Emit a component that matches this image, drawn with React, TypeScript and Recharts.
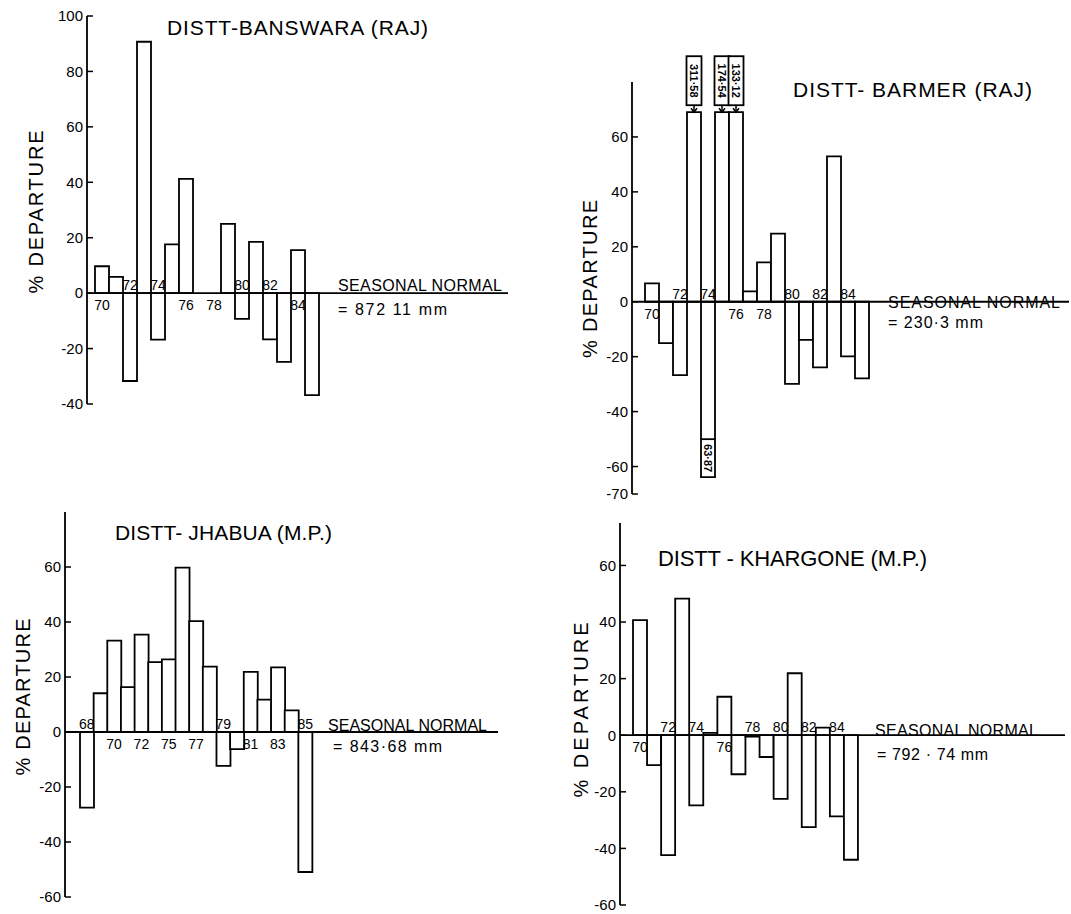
import { Bar, BarChart, LabelList, ReferenceDot, ReferenceLine, XAxis, YAxis } from 'recharts'

const FONT = '"Liberation Sans", Arial, sans-serif'

// Banswara (Raj) 1970-85
const banswaraYears = ['70', '71', '72', '73', '74', '75', '76', '77', '78', '79', '80', '81', '82', '83', '84', '85']
const banswaraValues = [9.7, 5.9, -31.7, 90.7, -16.8, 17.6, 41.2, 0, 0, 25, -9.3, 18.5, -16.7, -24.8, 15.5, -36.8]
const banswaraTicks = [-40, -20, 0, 20, 40, 60, 80, 100]

// Barmer (Raj) 1970-85, bars above the cap are cut and annotated
const barmerYears = ['70', '71', '72', '73', '74', '75', '76', '77', '78', '79', '80', '81', '82', '83', '84', '85']
const barmerValues = [6.7, -15.1, -26.7, 311.58, -63.87, 174.54, 133.12, 3.8, 14.3, 24.8, -29.9, -13.9, -23.9, 52.9, -19.9, -27.9]
const barmerNotes = ['', '', '', '311·58', '63·87', '174·54', '133·12', '', '', '', '', '', '', '', '', '']
const barmerTicks = [-70, -60, -40, -20, 0, 20, 40, 60]
const BARMER_CAP = 69

// Jhabua (M.P.) 1968-85, no 1974
const jhabuaYears = ['68', '69', '70', '71', '72', '73', '75', '76', '77', '78', '79', '80', '81', '82', '83', '84', '85']
const jhabuaValues = [-27.5, 14.1, 33.2, 16.3, 35.4, 25.4, 26.4, 59.8, 40.3, 23.8, -12.3, -6.2, 21.9, 11.8, 23.5, 7.9, -50.9]
const jhabuaTicks = [-60, -40, -20, 0, 20, 40, 60]

// Khargone (M.P.) 1970-85
const khargoneYears = ['70', '71', '72', '73', '74', '75', '76', '77', '78', '79', '80', '81', '82', '83', '84', '85']
const khargoneValues = [40.7, -10.6, -42.4, 48.3, -24.8, 0.8, 13.6, -13.8, -0.5, -7.7, -22.5, 21.9, -32.5, 2.7, -28.7, -44]
const khargoneTicks = [-60, -40, -20, 0, 20, 40, 60]

// boxed value notes for the cut bars (Barmer)
const makeNote = (years: string[], values: number[], notes: string[]) => (props: any) => {
  const { viewBox, value } = props
  if (!viewBox) return null
  const i = years.indexOf(String(value))
  const note = notes[i]
  if (!note) return null
  const { x, y, width, height } = viewBox
  const top = Math.min(y, y + height)
  const bottom = Math.max(y, y + height)
  const cx = x + width / 2
  if (values[i] > 0) {
    return (
      <g>
        <rect x={cx - 7.5} y={top - 56} width={15} height={49} fill='#fff' stroke='#000' strokeWidth={1.8} />
        <text
          x={cx}
          y={top - 31.5}
          textAnchor='middle'
          dominantBaseline='central'
          fontSize={11}
          fontWeight='bold'
          fontFamily={FONT}
          fill='#000'
          transform={`rotate(90 ${cx} ${top - 31.5})`}
        >
          {note}
        </text>
        <line x1={cx} y1={top - 7} x2={cx} y2={top} stroke='#000' strokeWidth={1.5} />
        <path d={`M${cx - 3} ${top - 4} L${cx} ${top} L${cx + 3} ${top - 4}`} fill='none' stroke='#000' strokeWidth={1.5} />
      </g>
    )
  }
  return (
    <g>
      <line x1={x} y1={bottom - 38} x2={x + width} y2={bottom - 38} stroke='#000' strokeWidth={1.8} />
      <text
        x={cx}
        y={bottom - 19}
        textAnchor='middle'
        dominantBaseline='central'
        fontSize={11}
        fontWeight='bold'
        fontFamily={FONT}
        fill='#000'
        transform={`rotate(90 ${cx} ${bottom - 19})`}
      >
        {note}
      </text>
    </g>
  )
}

type PanelProps = {
  left: number
  top: number
  width: number
  height: number
  margin: { top: number; right: number; bottom: number; left: number }
  yWidth: number
  domain: [number, number]
  ticks: number[]
  padLeft: number
  padRight: number
  years: string[]
  values: number[]
  notes?: string[]
  cap?: number
}

function Panel(p: PanelProps) {
  const data = p.years.map((year, i) => ({ year, value: p.values[i] }))
  const cap = p.cap
  return (
    <div style={{ position: 'absolute', left: p.left, top: p.top }}>
      <BarChart width={p.width} height={p.height} data={data} margin={p.margin} barCategoryGap={0} barGap={0}>
        <XAxis dataKey='year' hide padding={{ left: p.padLeft, right: p.padRight }} />
        <YAxis
          type='number'
          domain={p.domain}
          ticks={p.ticks}
          interval={0}
          width={p.yWidth}
          tickSize={-6}
          tickMargin={10}
          axisLine={{ stroke: '#000', strokeWidth: 1.8 }}
          tickLine={{ stroke: '#000', strokeWidth: 1.5 }}
          tick={{ fill: '#000', fontSize: 15, fontFamily: FONT }}
        />
        <Bar
          dataKey={cap ? (d: any) => Math.min(d.value, cap) : 'value'}
          fill='#fff'
          stroke='#000'
          strokeWidth={1.8}
          isAnimationActive={false}
        >
          {p.notes && <LabelList dataKey='year' content={makeNote(p.years, p.values, p.notes)} />}
        </Bar>
        <ReferenceLine y={0} stroke='#000' strokeWidth={1.8} />
        {/* year labels every second bar, on the side away from the bar */}
        {p.years.map((year, i) =>
          i % 2 === 0 ? (
            <ReferenceDot
              key={year}
              x={year}
              y={0}
              r={0}
              ifOverflow='visible'
              shape={(s: any) => (
                <text
                  x={s.cx}
                  y={p.values[i] >= 0 ? s.cy + 17 : s.cy - 3}
                  textAnchor='middle'
                  fontSize={14}
                  fontFamily={FONT}
                  fill='#000'
                >
                  {year}
                </text>
              )}
            />
          ) : null
        )}
      </BarChart>
    </div>
  )
}

export default function App() {
  return (
    <div style={{ position: 'absolute', left: 0, top: 0, width: 1071, height: 914, background: '#fff' }}>
      <Panel
        left={0}
        top={0}
        width={530}
        height={420}
        margin={{ top: 16, right: 22, bottom: 16, left: 27 }}
        yWidth={60}
        domain={[-40, 100]}
        ticks={banswaraTicks}
        padLeft={8}
        padRight={189}
        years={banswaraYears}
        values={banswaraValues}
      />
      <Panel
        left={560}
        top={0}
        width={511}
        height={512}
        margin={{ top: 82, right: 2, bottom: 18, left: 12 }}
        yWidth={60}
        domain={[-70, 80]}
        ticks={barmerTicks}
        padLeft={13}
        padRight={200}
        years={barmerYears}
        values={barmerValues}
        notes={barmerNotes}
        cap={BARMER_CAP}
      />
      <Panel
        left={0}
        top={480}
        width={530}
        height={434}
        margin={{ top: 32, right: 32, bottom: 17, left: 10 }}
        yWidth={55}
        domain={[-60, 80]}
        ticks={jhabuaTicks}
        padLeft={15}
        padRight={186}
        years={jhabuaYears}
        values={jhabuaValues}
      />
      <Panel
        left={560}
        top={480}
        width={511}
        height={434}
        margin={{ top: 43, right: 6, bottom: 9, left: 10 }}
        yWidth={50}
        domain={[-60, 75]}
        ticks={khargoneTicks}
        padLeft={13}
        padRight={207}
        years={khargoneYears}
        values={khargoneValues}
      />
      <svg
        width={1071}
        height={914}
        style={{ position: 'absolute', left: 0, top: 0, pointerEvents: 'none', whiteSpace: 'pre' }}
        fontFamily={FONT}
        fill='#000'
      >
        {/* Banswara */}
        <text x={167} y={35} fontSize={21} textLength={261} lengthAdjust='spacing'>DISTT-BANSWARA  (RAJ)</text>
        <text x={43} y={212} fontSize={20} textAnchor='middle' textLength={163} lengthAdjust='spacing' transform='rotate(-90 43 212)'>% DEPARTURE</text>
        <text x={338} y={291} fontSize={16} textLength={164} lengthAdjust='spacing'>SEASONAL NORMAL</text>
        <text x={338} y={315} fontSize={16} textLength={109} lengthAdjust='spacing'>= 872 11 mm</text>
        {/* Barmer */}
        <text x={793} y={97} fontSize={21} textLength={239} lengthAdjust='spacing'>DISTT- BARMER (RAJ)</text>
        <text x={597} y={279} fontSize={20} textAnchor='middle' textLength={158} lengthAdjust='spacing' transform='rotate(-90 597 279)'>% DEPARTURE</text>
        <text x={888} y={308} fontSize={16} textLength={172} lengthAdjust='spacing'>SEASONAL NORMAL</text>
        <text x={888} y={328} fontSize={16} textLength={95} lengthAdjust='spacing'>= 230·3 mm</text>
        {/* Jhabua */}
        <text x={115} y={540} fontSize={21} textLength={217} lengthAdjust='spacing'>DISTT- JHABUA (M.P.)</text>
        <text x={30} y={697} fontSize={20} textAnchor='middle' textLength={157} lengthAdjust='spacing' transform='rotate(-90 30 697)'>% DEPARTURE</text>
        <text x={328} y={731} fontSize={16} textLength={159} lengthAdjust='spacing'>SEASONAL NORMAL</text>
        <text x={333} y={752} fontSize={16} textLength={109} lengthAdjust='spacing'>= 843·68 mm</text>
        {/* Khargone */}
        <text x={658} y={566} fontSize={22} textLength={269} lengthAdjust='spacing'>DISTT - KHARGONE (M.P.)</text>
        <text x={588} y={710} fontSize={20} textAnchor='middle' textLength={175} lengthAdjust='spacing' transform='rotate(-90 588 710)'>% DEPARTURE</text>
        <text x={875} y={736} fontSize={16} textLength={163} lengthAdjust='spacing'>SEASONAL NORMAL</text>
        <text x={877} y={760} fontSize={16} textLength={111} lengthAdjust='spacing'>= 792 · 74 mm</text>
      </svg>
    </div>
  )
}
